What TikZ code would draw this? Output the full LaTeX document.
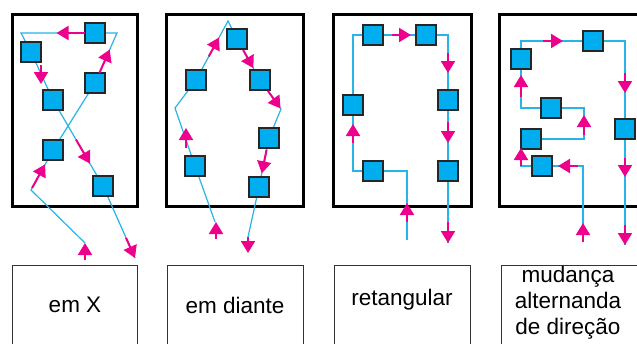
\documentclass[tikz,border=0pt]{standalone}
\usepackage{fontspec}
\setmainfont{Liberation Sans}
\usetikzlibrary{calc}
\usetikzlibrary{arrows.meta}
\definecolor{chipblue}{RGB}{0,174,239}
\definecolor{wireblue}{RGB}{40,180,230}
\definecolor{flowpink}{RGB}{236,0,140}
\tikzset{
 chip/.style={draw=black!85, line width=1.3pt, fill=chipblue, minimum size=20pt, inner sep=0pt},
 wire/.style={wireblue, line width=1.2pt},
 flow/.style={flowpink, line width=2pt, -{Triangle[length=12pt,width=14pt]}},
 board/.style={draw=black, line width=3pt},
 tag/.style={draw=black!80, line width=0.8pt},
 caption/.style={font=\fontsize{22.5}{26}\selectfont, align=center}
}
\begin{document}
\begin{tikzpicture}[x=1pt, y=-1pt]
\clip (0,0) rectangle (637,343);
\fill[white] (0,0) rectangle (637,343);

% frames and label boxes
\draw[board] (12,14) rectangle (137,206);
\draw[board] (166,14) rectangle (303,206);
\draw[board] (333,14) rectangle (471,206);
\draw[board] (499,14) rectangle (660,206);
\draw[tag] (12,265) rectangle (137,350);
\draw[tag] (167,265) rectangle (303,350);
\draw[tag] (334,265) rectangle (470,350);
\draw[tag] (501,265) rectangle (660,350);
\node[caption] (capx) at (75,305) {em X};
\node[caption] (capd) at (235,305) {em diante};
\node[caption] (capr) at (402,300) {retangular};
\node[caption] (capm) at (568,303) {mudança\\alternanda\\de direção};

% em X
\coordinate (x1) at (95,33);
\coordinate (x2) at (31,52);
\coordinate (x3) at (95,83);
\coordinate (x4) at (53,100);
\coordinate (x5) at (53,150);
\coordinate (x6) at (103,186);
\coordinate (xin) at (85,243);
\coordinate (xk1) at (31,190);
\coordinate (xk2) at (117,33);
\coordinate (xk3) at (21,33);
\coordinate (xout) at (135,258);
\draw[wire] (xin) -- (xk1) -- (x5) -- (x3) -- (xk2) -- (xk3) -- (x2) -- (x4) -- (x6) -- (xout);
\foreach \c in {x1,x2,x3,x4,x5,x6} \node[chip] (n\c) at (\c) {};
\draw[flow] ($(xin)+(0,17)$) -- (xin);
\draw[flow] ($(xk1)!.05!(x5)$) -- ($(xk1)!.64!(x5)$);
\draw[flow] ($(x3)!.2!(xk2)$) -- ($(x3)!.67!(xk2)$);
\draw[flow] ($(x1)!.13!(xk3)$) -- ($(x1)!.52!(xk3)$);
\draw[flow] ($(x2)+(10,13)$) -- ($(x2)+(10,32)$);
\draw[flow] ($(x4)!.46!(x6)$) -- ($(x4)!.74!(x6)$);
\draw[flow] ($(x6)!.72!(xout)$) -- (xout);

% em diante
\coordinate (d1) at (237,39);
\coordinate (d2) at (196,80);
\coordinate (d3) at (260,80);
\coordinate (d4) at (269,138);
\coordinate (d5) at (195,166);
\coordinate (d6) at (259,187);
\coordinate (din) at (215,222);
\coordinate (dk1) at (175,108);
\coordinate (dk2) at (228,21);
\coordinate (dk3) at (281,109);
\coordinate (dout) at (248,237);
\draw[wire] (din) -- (d5) -- (dk1) -- (d2) -- (dk2) -- (d1) -- (d3) -- (dk3) -- (d4) -- (d6) -- (dout);
\foreach \c in {d1,d2,d3,d4,d5,d6} \node[chip] (n\c) at (\c) {};
\draw[flow] ($(din)+(1,17)$) -- ($(din)+(1,0)$);
\draw[flow] ($(d5)+(-9,-18)$) -- ($(d5)+(-9,-38)$);
\draw[flow] ($(d2)!.40!(dk2)$) -- ($(d2)!.72!(dk2)$);
\draw[flow] ($(d1)!.27!(d3)$) -- ($(d1)!.71!(d3)$);
\draw[flow] ($(d3)!.38!(dk3)$) -- ($(d3)!.98!(dk3)$);
\draw[flow] ($(d4)!.24!(d6)$) -- ($(d4)!.72!(d6)$);
\draw[flow] (dout) -- ($(dout)+(0,16)$);

% retangular
\coordinate (r1) at (373,35);
\coordinate (r2) at (426,35);
\coordinate (r3) at (353,105);
\coordinate (r4) at (448,100);
\coordinate (r5) at (373,171);
\coordinate (r6) at (448,171);
\coordinate (rin) at (407,240);
\coordinate (rout) at (448,243);
\draw[wire] (rin) |- (r5) -| (r3) |- (r1) -- (r2) -| (r4) -- (r6) -- (rout);
\foreach \c in {r1,r2,r3,r4,r5,r6} \node[chip] (n\c) at (\c) {};
\draw[flow] ($(r1)+(19,0)$) -- ($(r1)+(38,0)$);
\draw[flow] ($(r2)+(22,18)$) -- ($(r2)+(22,38)$);
\draw[flow] ($(r4)+(0,22)$) -- ($(r4)+(0,43)$);
\draw[flow] ($(rout)+(0,-21)$) -- (rout);
\draw[flow] ($(r3)+(0,38)$) -- ($(r3)+(0,19)$);
\draw[flow] ($(rin)+(0,-18)$) -- ($(rin)+(0,-37)$);

% mudanca alternanda de direcao
\coordinate (m1) at (521,59);
\coordinate (m2) at (593,41);
\coordinate (m3) at (551,108);
\coordinate (m4) at (625,129);
\coordinate (m5) at (531,139);
\coordinate (m6) at (542,166);
\coordinate (min) at (583,242);
\coordinate (mk1) at (521,166);
\coordinate (mk2) at (584,139);
\coordinate (mout) at (625,245);
\draw[wire] (min) |- (m6) -- (mk1) -- (mk1 |- m5);
\draw[wire] (m5) -- (mk2) |- (m3) -| (m1) |- (m2) -| (m4) -- (mout);
\foreach \c in {m1,m2,m3,m4,m5,m6} \node[chip] (n\c) at (\c) {};
\draw[flow] (min) -- ($(min)+(0,-19)$);
\draw[flow] ($(m6)+(36,0)$) -- ($(m6)+(16,0)$);
\draw[flow] (mk1) -- ($(mk1)+(0,-18)$);
\draw[flow] ($(mk2)+(0,-4)$) -- ($(mk2)+(0,-24)$);
\draw[flow] ($(m1)+(0,38)$) -- ($(m1)+(0,16)$);
\draw[flow] ($(m2)+(-50,0)$) -- ($(m2)+(-30,0)$);
\draw[flow] ($(m4)+(0,-56)$) -- ($(m4)+(0,-36)$);
\draw[flow] ($(m4)+(0,29)$) -- ($(m4)+(0,48)$);
\draw[flow] ($(mout)+(0,-20)$) -- (mout);
\end{tikzpicture}
\end{document}
